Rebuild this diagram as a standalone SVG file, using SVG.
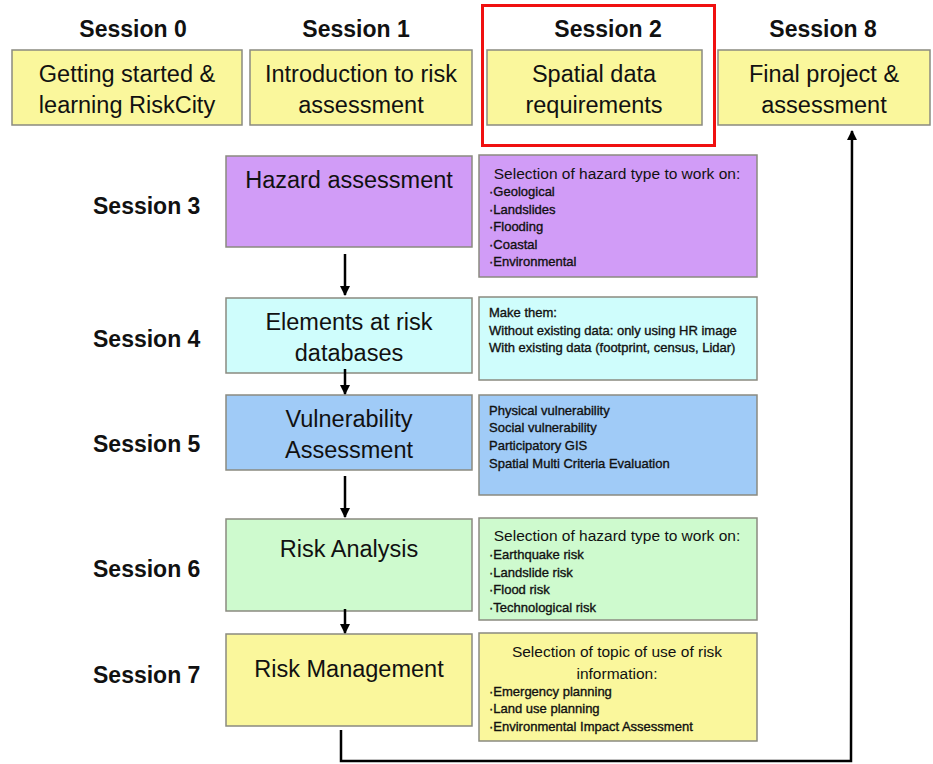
<svg xmlns="http://www.w3.org/2000/svg" width="933" height="764" viewBox="0 0 933 764">
<defs>
<marker id="ah" viewBox="0 0 10 10" refX="9" refY="5" markerWidth="4" markerHeight="4" orient="auto-start-reverse" markerUnits="strokeWidth">
<path d="M0,0 L10,5 L0,10 z" fill="#000"/>
</marker>
<style>
text{font-family:"Liberation Sans",Arial,sans-serif;fill:#111}
.ses{font-size:23px;font-weight:bold;}
.big{font-size:23.5px;text-anchor:middle}
.ttl{font-size:15.5px;text-anchor:middle}
.sm{font-size:13px;stroke:#111;stroke-width:0.35}
.box{stroke:#8a8a80;stroke-width:1.5}
.yel{fill:#FAF79C}
.pur{fill:#D19CF7}
.cya{fill:#CFFDFC}
.blu{fill:#A0CBF7}
.grn{fill:#CEFACE}
.con{fill:none;stroke:#000;stroke-width:2.5}
</style>
</defs>
<rect width="933" height="764" fill="#fff"/>

<g id="top-labels">
<text class="ses" x="133" y="37" text-anchor="middle">Session 0</text>
<text class="ses" x="356" y="37" text-anchor="middle">Session 1</text>
<text class="ses" x="608" y="37" text-anchor="middle">Session 2</text>
<text class="ses" x="823" y="37" text-anchor="middle">Session 8</text>
</g>

<g id="s0">
<rect class="box yel" x="12" y="50" width="230" height="75"/>
<text class="big" x="127" y="82">Getting started &amp;</text>
<text class="big" x="127" y="113">learning RiskCity</text>
</g>
<g id="s1">
<rect class="box yel" x="250" y="50" width="222" height="75"/>
<text class="big" x="361" y="82">Introduction to risk</text>
<text class="big" x="361" y="113">assessment</text>
</g>
<g id="s2">
<rect class="box yel" x="487" y="50" width="215" height="75"/>
<text class="big" x="594" y="82">Spatial data</text>
<text class="big" x="594" y="113">requirements</text>
</g>
<g id="s8">
<rect class="box yel" x="718" y="50" width="212" height="75"/>
<text class="big" x="824" y="82">Final project &amp;</text>
<text class="big" x="824" y="113">assessment</text>
</g>
<g id="highlight">
<rect x="482.5" y="5.5" width="232" height="140" fill="none" stroke="#F01010" stroke-width="3"/>
</g>

<g id="left-labels">
<text class="ses" x="93" y="214">Session 3</text>
<text class="ses" x="93" y="347">Session 4</text>
<text class="ses" x="93" y="452">Session 5</text>
<text class="ses" x="93" y="577">Session 6</text>
<text class="ses" x="93" y="683">Session 7</text>
</g>

<g id="s3">
<rect class="box pur" x="226" y="156" width="246" height="91"/>
<text class="big" x="349" y="188">Hazard assessment</text>
</g>
<g id="s3-detail">
<rect class="box pur" x="479" y="155" width="278" height="122"/>
<text class="ttl" x="617" y="179">Selection of hazard type to work on:</text>
<text class="sm" x="489" y="196">·Geological</text>
<text class="sm" x="489" y="214">·Landslides</text>
<text class="sm" x="489" y="231">·Flooding</text>
<text class="sm" x="489" y="249">·Coastal</text>
<text class="sm" x="489" y="266">·Environmental</text>
</g>

<g id="s4">
<rect class="box cya" x="226" y="298" width="246" height="75"/>
<text class="big" x="349" y="330">Elements at risk</text>
<text class="big" x="349" y="361">databases</text>
</g>
<g id="s4-detail">
<rect class="box cya" x="479" y="297" width="278" height="83"/>
<text class="sm" x="489" y="317">Make them:</text>
<text class="sm" x="489" y="335">Without existing data: only using HR image</text>
<text class="sm" x="489" y="352">With existing data (footprint, census, Lidar)</text>
</g>

<g id="s5">
<rect class="box blu" x="226" y="395" width="246" height="75"/>
<text class="big" x="349" y="427">Vulnerability</text>
<text class="big" x="349" y="458">Assessment</text>
</g>
<g id="s5-detail">
<rect class="box blu" x="479" y="395" width="278" height="100"/>
<text class="sm" x="489" y="415">Physical vulnerability</text>
<text class="sm" x="489" y="432">Social vulnerability</text>
<text class="sm" x="489" y="450">Participatory GIS</text>
<text class="sm" x="489" y="468">Spatial Multi Criteria Evaluation</text>
</g>

<g id="s6">
<rect class="box grn" x="226" y="519" width="246" height="92"/>
<text class="big" x="349" y="557">Risk Analysis</text>
</g>
<g id="s6-detail">
<rect class="box grn" x="479" y="518" width="278" height="102"/>
<text class="ttl" x="617" y="541">Selection of hazard type to work on:</text>
<text class="sm" x="489" y="559">·Earthquake risk</text>
<text class="sm" x="489" y="577">·Landslide risk</text>
<text class="sm" x="489" y="594">·Flood risk</text>
<text class="sm" x="489" y="612">·Technological risk</text>
</g>

<g id="s7">
<rect class="box yel" x="226" y="634" width="246" height="92"/>
<text class="big" x="349" y="677">Risk Management</text>
</g>
<g id="s7-detail">
<rect class="box yel" x="479" y="633" width="278" height="108"/>
<text class="ttl" x="617" y="657">Selection of topic of use of risk</text>
<text class="ttl" x="617" y="679">information:</text>
<text class="sm" x="489" y="696">·Emergency planning</text>
<text class="sm" x="489" y="713">·Land use planning</text>
<text class="sm" x="489" y="731">·Environmental Impact Assessment</text>
</g>

<g id="connectors">
<line class="con" x1="345" y1="254" x2="345" y2="295" marker-end="url(#ah)"/>
<line class="con" x1="345" y1="369" x2="345" y2="394" marker-end="url(#ah)"/>
<line class="con" x1="345" y1="476" x2="345" y2="517" marker-end="url(#ah)"/>
<line class="con" x1="345" y1="609" x2="345" y2="633" marker-end="url(#ah)"/>
<polyline class="con" points="341,730 341,761 851,761 852,131" marker-end="url(#ah)"/>
</g>
</svg>
